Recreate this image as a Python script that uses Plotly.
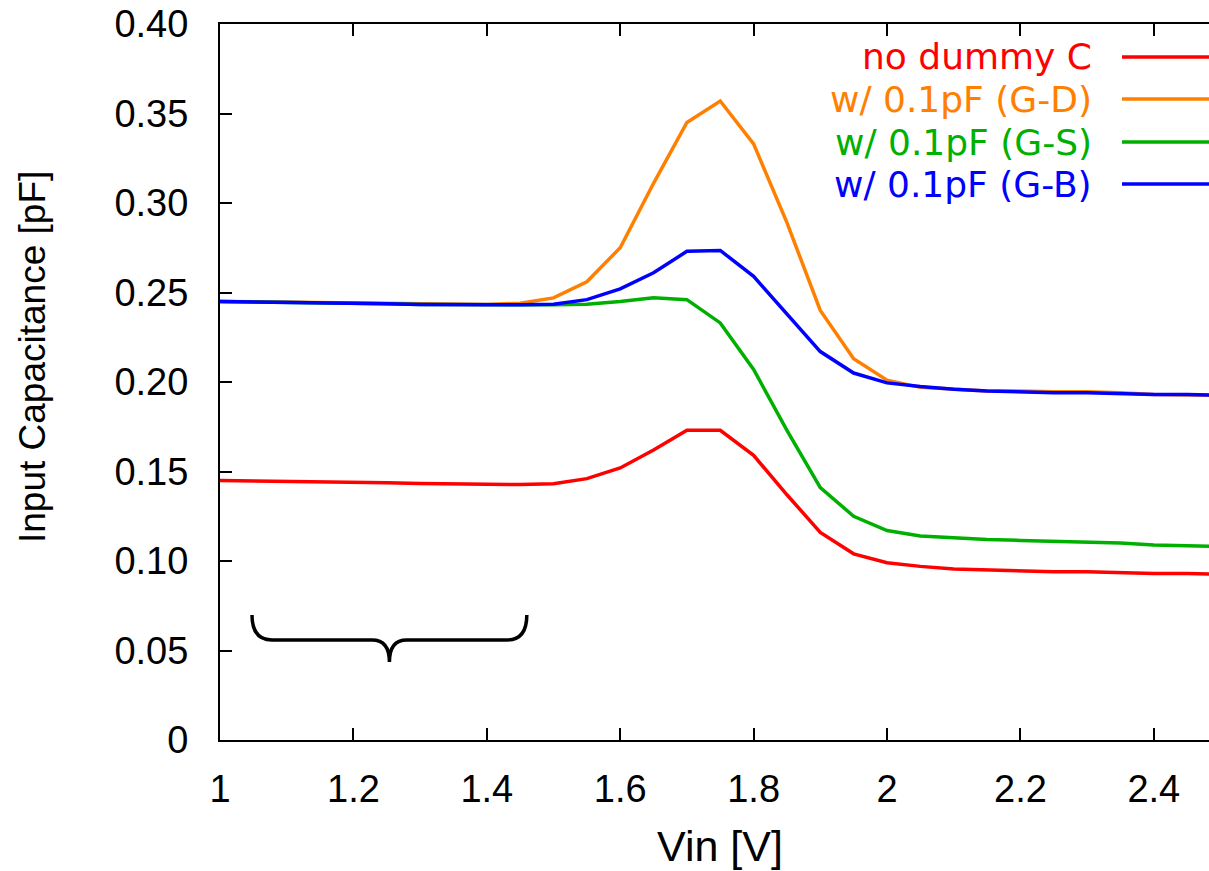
import plotly.graph_objects as go

# Gate voltage sweep [V]
vin = [1.00, 1.05, 1.10, 1.15, 1.20, 1.25, 1.30, 1.35, 1.40, 1.45,
       1.50, 1.55, 1.60, 1.65, 1.70, 1.75, 1.80, 1.85, 1.90, 1.95,
       2.00, 2.05, 2.10, 2.15, 2.20, 2.25, 2.30, 2.35, 2.40, 2.45, 2.50]

# Input capacitance [pF] for each configuration
no_dummy = [0.1450, 0.1448, 0.1445, 0.1442, 0.1440, 0.1437, 0.1433, 0.1432, 0.1428, 0.1427,
            0.1432, 0.1460, 0.1520, 0.1620, 0.1730, 0.1730, 0.1590, 0.1370, 0.1160, 0.1040,
            0.0990, 0.0970, 0.0955, 0.0950, 0.0945, 0.0940, 0.0940, 0.0935, 0.0930, 0.0930, 0.0925]
gd_01pf = [0.2450, 0.2448, 0.2445, 0.2443, 0.2441, 0.2440, 0.2435, 0.2433, 0.2433, 0.2440,
           0.2470, 0.2560, 0.2750, 0.3110, 0.3450, 0.3570, 0.3330, 0.2890, 0.2400, 0.2130,
           0.2010, 0.1970, 0.1960, 0.1950, 0.1950, 0.1945, 0.1945, 0.1940, 0.1930, 0.1930, 0.1925]
gs_01pf = [0.2450, 0.2448, 0.2442, 0.2440, 0.2439, 0.2437, 0.2433, 0.2431, 0.2431, 0.2431,
           0.2432, 0.2435, 0.2450, 0.2470, 0.2460, 0.2330, 0.2070, 0.1730, 0.1410, 0.1250,
           0.1170, 0.1140, 0.1130, 0.1120, 0.1115, 0.1110, 0.1105, 0.1100, 0.1090, 0.1085, 0.1080]
gb_01pf = [0.2450, 0.2448, 0.2442, 0.2440, 0.2439, 0.2437, 0.2433, 0.2431, 0.2431, 0.2431,
           0.2435, 0.2460, 0.2520, 0.2610, 0.2730, 0.2735, 0.2590, 0.2380, 0.2170, 0.2050,
           0.1995, 0.1975, 0.1960, 0.1950, 0.1945, 0.1940, 0.1940, 0.1935, 0.1930, 0.1930, 0.1925]

series_names = ["no dummy C", "w/ 0.1pF (G-D)", "w/ 0.1pF (G-S)", "w/ 0.1pF (G-B)"]
series_values = [no_dummy, gd_01pf, gs_01pf, gb_01pf]
series_colors = ["#ff0000", "#ff8000", "#00b000", "#0000ff"]

x_tickvals = [1.0, 1.2, 1.4, 1.6, 1.8, 2.0, 2.2, 2.4]
x_ticktext = ["1", "1.2", "1.4", "1.6", "1.8", "2", "2.2", "2.4"]
y_tickvals = [0.0, 0.05, 0.10, 0.15, 0.20, 0.25, 0.30, 0.35, 0.40]
y_ticktext = ["0", "0.05", "0.10", "0.15", "0.20", "0.25", "0.30", "0.35", "0.40"]

# Curly brace spanning the low-Vin region
brace_x = [1.048, 1.460]
brace_y = [0.0699, 0.0559, 0.0436]   # ends, bar, tip

W, H = 1209, 871
ML, MT, MB = 220, 24, 131
plot_w = W - ML
plot_h = H - MT - MB

TICK_FONT = dict(family="Liberation Sans, Arial, sans-serif", size=38, color="black")

fig = go.Figure()
for name, vals, col in zip(series_names, series_values, series_colors):
    fig.add_trace(go.Scatter(x=vin, y=vals, mode="lines", name=name,
                             line=dict(color=col, width=3.5), showlegend=False))

fig.update_xaxes(range=[1.0, 1.0 + plot_w / 667.0 * 0.2 / 0.2],
                 tickvals=x_tickvals, ticktext=x_ticktext,
                 ticks="inside", ticklen=12, tickwidth=2, tickcolor="black",
                 showline=True, linecolor="black", linewidth=2, mirror="ticks",
                 showgrid=False, zeroline=False, tickfont=TICK_FONT,
                 ticklabelstandoff=14)
fig.update_yaxes(range=[0.0, 0.40],
                 tickvals=y_tickvals, ticktext=y_ticktext,
                 ticks="inside", ticklen=12, tickwidth=2, tickcolor="black",
                 showline=True, linecolor="black", linewidth=2, mirror=False,
                 showgrid=False, zeroline=False, tickfont=TICK_FONT,
                 ticklabelstandoff=22)

# Axis titles
fig.add_annotation(text="Vin [V]", xref="x", yref="paper", x=1.75,
                   y=(740 - 846) / plot_h, xanchor="center", yanchor="middle",
                   showarrow=False,
                   font=dict(family="Liberation Sans, Arial, sans-serif", size=43, color="black"))
fig.add_annotation(text="Input Capacitance [pF]", xref="paper", yref="paper",
                   x=(32 - ML) / plot_w, y=(740 - 357) / plot_h, textangle=-90,
                   xanchor="center", yanchor="middle", showarrow=False,
                   font=dict(family="Liberation Sans, Arial, sans-serif", size=37, color="black"))

# Key: right-aligned labels with line samples
key_rows_px = [57, 99, 142, 184]
for name, col, ypx in zip(series_names, series_colors, key_rows_px):
    yp = (740 - ypx) / plot_h
    fig.add_annotation(text=name, xref="paper", yref="paper",
                       x=(1094 - ML) / plot_w, y=yp, xanchor="right", yanchor="middle",
                       showarrow=False,
                       font=dict(family="DejaVu Sans, sans-serif", size=36, color=col))
    fig.add_shape(type="line", xref="paper", yref="paper",
                  x0=(1122 - ML) / plot_w, x1=1.05, y0=yp, y1=yp,
                  line=dict(color=col, width=3.5))

# Brace path
x0, x1 = brace_x
xc = (x0 + x1) / 2
yt, ym, yk = brace_y
r = 0.030
rc = 0.026
path = (f"M {x0},{yt} Q {x0},{ym} {x0 + r},{ym} L {xc - rc},{ym} "
        f"Q {xc},{ym} {xc},{yk} Q {xc},{ym} {xc + rc},{ym} "
        f"L {x1 - r},{ym} Q {x1},{ym} {x1},{yt}")
fig.add_shape(type="path", path=path, xref="x", yref="y",
              line=dict(color="black", width=3.5))

fig.update_layout(width=W, height=H,
                  margin=dict(l=ML, r=0, t=MT, b=MB, pad=0),
                  paper_bgcolor="white", plot_bgcolor="white",
                  showlegend=False)

fig.write_html("out.html")
